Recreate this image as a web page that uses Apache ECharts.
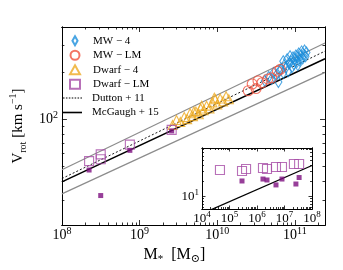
<!DOCTYPE html>
<html><head><meta charset="utf-8">
<script src="https://cdn.jsdelivr.net/npm/echarts@6/dist/echarts.min.js"></script>
<style>html,body{margin:0;padding:0;background:#fff}#c{width:343px;height:270px}</style>
</head><body><div id="c"></div>
<script>
// ---- data (stellar mass [Msun], rotation velocity [km/s]) ----
const mw4 = [[4.10e10,176],[4.60e10,186],[5.01e10,181],[5.31e10,198],[5.79e10,192],[6.13e10,173],[6.31e10,203],[6.68e10,209],[7.08e10,198],[7.29e10,222],[7.72e10,215],[7.94e10,242],[8.18e10,203],[8.41e10,228],[8.91e10,235],[9.17e10,215],[9.44e10,249],[9.72e10,225],[1.00e11,242],[1.03e11,256],[1.06e11,232],[1.09e11,249],[1.12e11,264],[1.155e11,238],[1.19e11,256],[1.22e11,272],[1.26e11,245],[1.30e11,260],[1.33e11,276],[1.37e11,253],[1.41e11,268],[7.08e10,235],[8.66e10,253],[1.09e11,222]];
const mwLM = [[2.51e10,152],[2.82e10,168],[3.16e10,157],[3.35e10,176],[3.76e10,171],[4.47e10,181],[5.01e10,184],[5.96e10,203],[6.49e10,209]];
const dwarf4 = [[2.66e9,91.7],[2.99e9,98.6],[3.35e9,95.7],[3.76e9,103],[4.10e9,100],[4.47e9,109],[4.87e9,104.4],[5.01e9,112],[5.31e9,112],[5.79e9,107.5],[6.13e9,117],[6.31e9,122],[6.68e9,114],[7.29e9,122],[7.94e9,117],[8.66e9,128],[9.17e9,137],[9.44e9,134],[1.00e10,124],[1.09e10,135.5],[1.19e10,130],[1.30e10,140],[1.41e10,134]];
const dwarfLM = [[2.24e8,53.7],[3.16e8,59.4],[3.16e8,55.2],[7.50e8,68.6],[2.59e9,85.3]];
const dwarfLMFilled = [[2.24e8,47.1],[3.16e8,32.3],[7.50e8,63.0],[2.59e9,84.0]];
const insetLM = [[4.5e4,32.4],[2.85e5,30.9],[4.0e5,33.8],[1.65e6,35.3],[2.31e6,33.8],[4.9e6,37.0],[8.1e6,37.0],[2.2e7,42.3],[3.4e7,42.3]];
const insetLMFilled = [[2.85e5,19.8],[1.65e6,21.6],[2.31e6,20.7],[4.9e6,16.6],[8.1e6,21.6],[2.6e7,17.3],[3.4e7,23.1]];
const mcgaugh = [[1e8,39.5],[2.44e11,244]];
const dutton = [[1e8,41.5],[2.44e11,273]];
const scatterUp = [[1e8,47.3],[2.44e11,308]];
const scatterLo = [[1e8,33.1],[2.44e11,199.5]];
const insetMcgaugh = [[1e4,4.6],[1e8,39.5]];
// ---- axis ranges and ticks ----
const mainX = [1e8, 2.44e11];
const mainY = [20.9, 390];
const insetX = [1e4, 1e8];
const insetY = [5.67, 86.3];
const mainXMajor = [1e8,1e9,1e10,1e11];
const mainYMajor = [100];
const insetXMajor = [1e4,1e5,1e6,1e7,1e8];
const insetYMajor = [10];
const pointNames = ['MW − 4','MW − LM','Dwarf − 4','Dwarf − LM'];
const lineNames = ['Dutton + 11','McGaugh + 15'];

function minors(lo, hi){
  const out=[];
  for(let d=Math.floor(Math.log10(lo)); d<=Math.ceil(Math.log10(hi)); d++){
    for(let k=2;k<=9;k++){const v=k*Math.pow(10,d); if(v>=lo && v<=hi) out.push(v);}
  }
  return out;
}

const FONT = "'Liberation Serif','DejaVu Serif',serif";
function fmt(v){ return '{b|10}{s|'+Math.round(Math.log10(v))+'}'; }
function richLab(bs, ss){
  return { b:{fontSize:bs,fontFamily:FONT,color:'#000',lineHeight:bs+4},
           s:{fontSize:ss,fontFamily:FONT,color:'#000',lineHeight:ss-1,verticalAlign:'top'} };
}
function ax(gridIndex, position, range, values, len, label, extra){
  return Object.assign({
    type:'log', logBase:10, gridIndex, position, min:range[0], max:range[1],
    axisLine:{show:true,onZero:false,lineStyle:{color:'#000',width:1}},
    axisTick:{show:true,inside:true,length:len,customValues:values,lineStyle:{color:'#000',width:0.8}},
    axisLabel: label ? label : {show:false},
    splitLine:{show:false}, minorTick:{show:false}, minorSplitLine:{show:false}
  }, extra||{});
}

const xAxes = [
  ax(0,'bottom',mainX,mainXMajor,5,{show:true,customValues:mainXMajor,formatter:fmt,rich:richLab(14,10),margin:1},
     {name:'{r|M}{sub|*}{r|  [M}{sub|⊙}{r|]}', nameLocation:'middle', nameGap:20,
      nameTextStyle:{padding:[0,38,0,0],rich:{r:{fontSize:16,fontFamily:FONT,color:'#000',lineHeight:20},sub:{fontSize:11,fontFamily:FONT,color:'#000',verticalAlign:'bottom',lineHeight:12}}}}),
  ax(0,'bottom',mainX,minors(mainX[0],mainX[1]),2.5,null),
  ax(0,'top',mainX,mainXMajor,5,null),
  ax(0,'top',mainX,minors(mainX[0],mainX[1]),2.5,null),
  ax(1,'bottom',insetX,insetXMajor,3.5,{show:true,customValues:insetXMajor,formatter:fmt,rich:richLab(13,9),margin:1}),
  ax(1,'bottom',insetX,minors(insetX[0],insetX[1]),2,null),
  ax(1,'top',insetX,insetXMajor,3.5,null),
  ax(1,'top',insetX,minors(insetX[0],insetX[1]),2,null)
];
const yAxes = [
  ax(0,'left',mainY,mainYMajor,5,{show:true,customValues:mainYMajor,formatter:fmt,rich:richLab(14,10),margin:4},
     {name:'{r|V}{sub|rot}{r| [km s}{sup|−1}{r|]}', nameLocation:'middle', nameGap:30,
      nameTextStyle:{rich:{r:{fontSize:15,fontFamily:FONT,color:'#000',lineHeight:20},sub:{fontSize:10,fontFamily:FONT,color:'#000',verticalAlign:'bottom',lineHeight:12},sup:{fontSize:10,fontFamily:FONT,color:'#000',verticalAlign:'top',lineHeight:10}}}}),
  ax(0,'left',mainY,minors(mainY[0],mainY[1]),2.5,null),
  ax(0,'right',mainY,mainYMajor,5,null),
  ax(0,'right',mainY,minors(mainY[0],mainY[1]),2.5,null),
  ax(1,'left',insetY,insetYMajor,3.5,{show:true,customValues:insetYMajor,formatter:fmt,rich:richLab(13,9),margin:3}),
  ax(1,'left',insetY,minors(insetY[0],insetY[1]),2,null),
  ax(1,'right',insetY,insetYMajor,3.5,null),
  ax(1,'right',insetY,minors(insetY[0],insetY[1]),2,null)
];

function hollow(name,data,symbol,size,color,xi,yi){
  return {name,type:'scatter',data,symbol,symbolSize:size,xAxisIndex:xi||0,yAxisIndex:yi||0,
    itemStyle:{color:'rgba(255,255,255,0)',borderColor:color,borderWidth:1.1},emphasis:{disabled:true},z:5};
}
function lineS(name,data,color,width,type,xi,yi){
  return {name,type:'line',data,symbol:'none',xAxisIndex:xi||0,yAxisIndex:yi||0,
    lineStyle:{color,width,type},itemStyle:{color},emphasis:{disabled:true},z:3,clip:true};
}
const PURPLE='#a64ca6', PFILL='#7d0f7f';
const series = [
  lineS('up',scatterUp,'#8c8c8c',1.2,'solid'),
  lineS('lo',scatterLo,'#8c8c8c',1.2,'solid'),
  lineS(lineNames[0],dutton,'#000',0.9,[2,2]),
  lineS(lineNames[1],mcgaugh,'#000',1.5,'solid'),
  hollow(pointNames[0],mw4,'diamond',[7,11],'#1b8fdc'),
  hollow(pointNames[1],mwLM,'circle',10,'#f0533f'),
  hollow(pointNames[2],dwarf4,'triangle',9,'#eeaa22'),
  hollow(pointNames[3],dwarfLM,'rect',9,PURPLE),
  {name:'filled',type:'scatter',data:dwarfLMFilled,symbol:'rect',symbolSize:5,itemStyle:{color:PFILL},z:6,emphasis:{disabled:true}},
  lineS('inset line',insetMcgaugh,'#000',1.3,'solid',4,4),
  hollow('inset LM',insetLM,'rect',9,PURPLE,4,4),
  {name:'inset filled',type:'scatter',data:insetLMFilled,symbol:'rect',symbolSize:5,xAxisIndex:4,yAxisIndex:4,itemStyle:{color:PFILL},z:6,emphasis:{disabled:true}}
];

// legend line icons (style only)
let dots = 'path://';
for (let i = 0; i < 19; i += 3) dots += 'M' + i + ',0h1.6v0.9h-1.6z';
const solidIcon = 'path://M0,0h19v1.6h-19z';

const legText = {fontFamily:FONT,fontSize:11,color:'#000',lineHeight:14.5};
const chart = echarts.init(document.getElementById('c'),null,{renderer:'canvas'});
chart.setOption({
  animation:false,
  backgroundColor:'#fff',
  grid:[{left:54,top:27,width:271,height:202},{left:202,top:148,width:110,height:61}],
  legend:[
    {left:69,top:33.5,padding:0,orient:'vertical',itemWidth:10,itemHeight:9,itemGap:0,selectedMode:false,
     textStyle:Object.assign({padding:[0,0,0,8]},legText),
     data:[{name:pointNames[0],icon:'path://M4,0 L8,7 L4,14 L0,7 Z'},pointNames[1],pointNames[2],pointNames[3]]},
    {left:63,top:90.75,padding:0,orient:'vertical',itemWidth:19,itemHeight:10,itemGap:0,selectedMode:false,
     textStyle:Object.assign({padding:[0,0,0,5]},legText),
     data:[{name:lineNames[0],icon:dots},{name:lineNames[1],icon:solidIcon}]}
  ],
  xAxis:xAxes, yAxis:yAxes, series
});
</script></body></html>
